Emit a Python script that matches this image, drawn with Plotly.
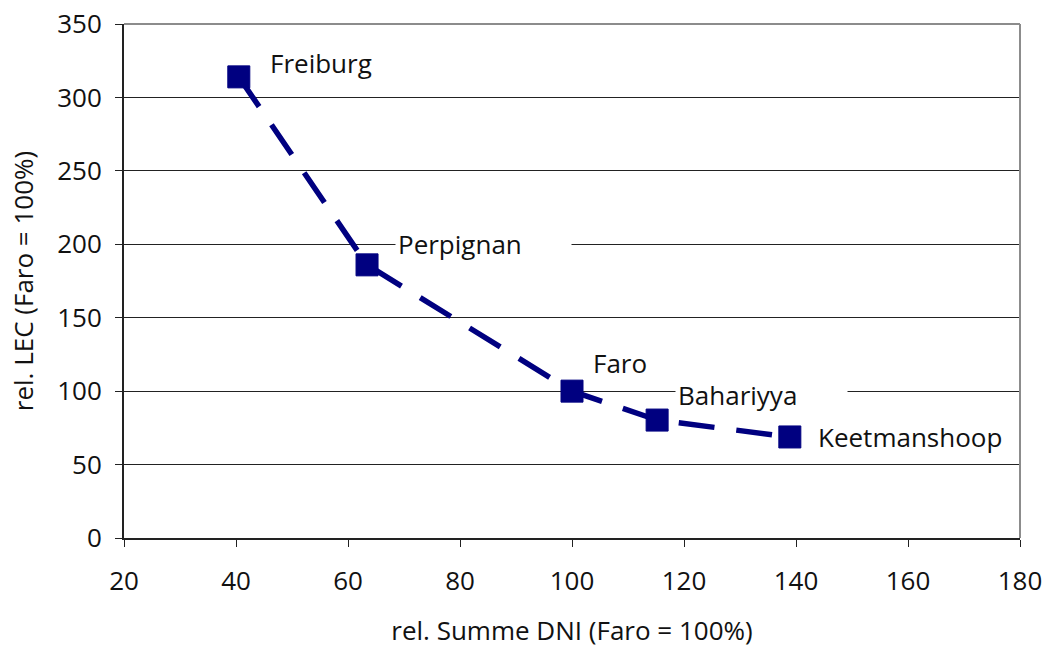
import plotly.graph_objects as go

# relative DNI sum vs relative LEC per site (Faro = 100 %)
sites = ["Freiburg", "Perpignan", "Faro", "Bahariyya", "Keetmanshoop"]
dni_rel = [40.5, 63.4, 100.0, 115.2, 138.9]
lec_rel = [314.0, 186.0, 100.0, 80.3, 68.8]

x_ticks = [20, 40, 60, 80, 100, 120, 140, 160, 180]
y_ticks = [0, 50, 100, 150, 200, 250, 300, 350]

# label placement (pixel shifts from each point) and trailing padding of the white box
label_xshift = [28, 28, 18, 18, 25]
label_yshift = [14, 21, 28, 25, 0]
label_pad = [0, 7, 0, 7, 0]

FONT = "Open Sans"
NAVY = "#000080"
FS = 26

fig = go.Figure()
fig.add_trace(go.Scatter(
    x=dni_rel, y=lec_rel, mode="lines+markers",
    line=dict(color=NAVY, width=5.5, dash="36px,22px"),
    marker=dict(symbol="square", size=22, color=NAVY,
                line=dict(color=NAVY, width=1)),
    hoverinfo="skip", showlegend=False, cliponaxis=False,
))

for name, xv, yv, dx, dy, pad in zip(sites, dni_rel, lec_rel,
                                     label_xshift, label_yshift, label_pad):
    fig.add_annotation(
        x=xv, y=yv, xref="x", yref="y", text=name + "\u00a0" * pad,
        showarrow=False, xanchor="left", yanchor="middle",
        xshift=dx, yshift=dy, bgcolor="white", borderpad=2,
        font=dict(family=FONT, size=FS, color="#111"),
    )

# grey frame on top and right of the plot area
fig.add_shape(type="line", xref="paper", yref="paper", x0=0, x1=1, y0=1, y1=1,
              line=dict(color="#8c8c8c", width=2), layer="above")
fig.add_shape(type="line", xref="paper", yref="paper", x0=1, x1=1, y0=0, y1=1,
              line=dict(color="#8c8c8c", width=2), layer="above")

fig.update_layout(
    width=1049, height=648,
    margin=dict(l=124, r=29, t=24, b=110, autoexpand=False),
    paper_bgcolor="white", plot_bgcolor="white",
    font=dict(family=FONT, size=FS, color="#111"),
    xaxis=dict(
        range=[20, 180], tickvals=x_ticks, ticktext=[str(v) for v in x_ticks],
        showgrid=False, zeroline=False, automargin=False,
        showline=True, linecolor="#222", linewidth=2,
        ticks="outside", ticklen=7, tickcolor="#222", tickwidth=1,
        ticklabelstandoff=12,
        title=dict(text="rel. Summe DNI (Faro = 100%)", standoff=28,
                   font=dict(size=FS)),
    ),
    yaxis=dict(
        range=[0, 350], tickvals=y_ticks, ticktext=[str(v) for v in y_ticks],
        showgrid=True, gridcolor="#222", gridwidth=1, zeroline=False,
        automargin=False,
        showline=True, linecolor="#222", linewidth=2,
        ticks="outside", ticklen=7, tickcolor="#222", tickwidth=1,
        ticklabelstandoff=8,
        title=dict(text="rel. LEC (Faro = 100%)", standoff=16,
                   font=dict(size=FS)),
    ),
)

fig.write_html("out.html")
